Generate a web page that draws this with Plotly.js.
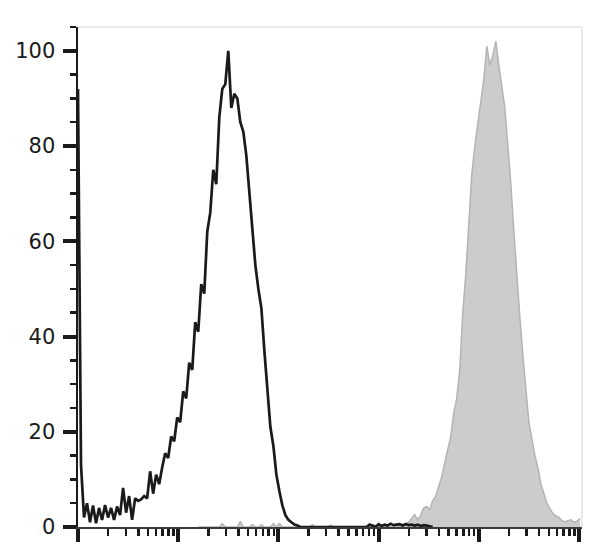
<!DOCTYPE html>
<html>
<head>
<meta charset="utf-8">
<script src="https://cdn.plot.ly/plotly-3.0.1.min.js"></script>
<style>
  html, body { margin: 0; padding: 0; background: #ffffff; }
  #chart { width: 608px; height: 545px; }
</style>
</head>
<body>
<div id="chart"></div>
<script>
// ---- Data (histogram counts, % of max, on log-spaced channels) ----
// Channel bins are 0.03 decades wide, starting at 10^0.
const BIN_DECADES = 0.03;

// Unstained / control (black outline), starting at bin 0
const blackStartBin = 0;
const blackCounts = [
  92, 13, 2, 5, 1, 4.5, 0.8, 4, 1.5, 4.6,
  2, 4, 1.5, 4.3, 2.5, 8.2, 3, 6.5, 1.5, 6,
  5.5, 5.8, 6.5, 6, 11.7, 7, 11, 9, 12.5, 15.5,
  14.5, 19, 18, 23, 22, 28.5, 27, 34.5, 33, 43,
  41, 51, 49, 62, 66, 75, 72, 86, 92, 93,
  100, 88, 91, 90, 85, 83, 78, 70, 63, 55,
  50, 46, 37, 29, 21, 17, 11, 7.5, 4.5, 2.5,
  1.5, 1, 0.5, 0.3, 0, 0, 0, 0, 0, 0,
  0, 0, 0, 0, 0, 0, 0, 0, 0, 0,
  0, 0, 0, 0, 0, 0, 0, 0.5, 0.3, 0,
  0.6, 0.2, 0.5, 0.3, 0.7, 0.4, 0.5, 0.6, 0.3, 0.6,
  0.4, 0.5, 0.3, 0.5, 0.2, 0.4, 0.3, 0.2, 0
];

// Stained sample (grey filled), starting at bin 40
const greyStartBin = 40;
const greyCounts = [
  0, 0, 0, 0, 0, 0, 0, 0, 0.7, 0,
  0, 0, 0, 0, 1.2, 0, 0, 0, 0.5, 0,
  0, 0.5, 0, 0, 0, 0.7, 0, 0.7, 0, 0,
  0, 0, 0, 0, 0, 0, 0, 0, 0.5, 0,
  0, 0, 0, 0, 0.4, 0, 0, 0, 0, 0,
  0, 0, 0, 0, 0, 0, 0, 0.3, 0.5, 0.3,
  0.2, 0.3, 0.2, 0, 0, 0, 0, 0.3, 0.5, 0.8,
  1, 1.8, 2.6, 1.5, 2.5, 4, 4.3, 3.6, 5.5, 6.5,
  8.8, 10.5, 13.5, 16.5, 19, 24, 27, 33, 45, 53,
  64, 74, 80, 85, 89, 94, 101, 97, 99, 102,
  97, 92, 88, 80, 72, 62, 52, 44, 36, 28,
  22, 18.5, 15, 12.5, 9, 7, 5, 3.8, 2.8, 2.3,
  2, 1.3, 1.1, 1.3, 1.5, 1, 1.2, 1.8
];

// Axis tick values
const xMajorTicks = [1, 10, 100, 1000, 10000, 100000];
const xMinorTicks = [];
for (let d = 0; d < 5; d++) {
  for (let m = 2; m <= 9; m++) xMinorTicks.push(m * Math.pow(10, d));
}
const yMajorTicks = [0, 20, 40, 60, 80, 100];
const yMajorLabels = ['0', '20', '40', '60', '80', '100'];
const yMinorTicks = [5, 10, 15, 25, 30, 35, 45, 50, 55, 65, 70, 75, 85, 90, 95, 105];

// ---- Build traces ----
function channelValues(startBin, counts) {
  return counts.map((_, i) => Math.pow(10, (startBin + i) * BIN_DECADES));
}

const greyTrace = {
  type: 'scatter',
  mode: 'lines',
  x: channelValues(greyStartBin, greyCounts),
  y: greyCounts,
  fill: 'tozeroy',
  fillcolor: '#cccccc',
  line: { color: '#b4b4b4', width: 1.5 },
  hoverinfo: 'skip'
};

const blackTrace = {
  type: 'scatter',
  mode: 'lines',
  x: channelValues(blackStartBin, blackCounts),
  y: blackCounts,
  line: { color: '#1a1a1a', width: 2.7 },
  hoverinfo: 'skip'
};

const layout = {
  width: 608,
  height: 545,
  margin: { l: 78, r: 26, t: 27, b: 18, pad: 0 },
  paper_bgcolor: '#ffffff',
  plot_bgcolor: '#ffffff',
  showlegend: false,
  xaxis: {
    type: 'log',
    range: [0, 5.03],
    showgrid: false,
    zeroline: false,
    showline: true,
    linecolor: '#3a3a3a',
    linewidth: 2,
    ticks: 'outside',
    tickmode: 'array',
    tickvals: xMajorTicks,
    ticktext: xMajorTicks.map(() => ''),
    ticklen: 13,
    tickwidth: 4,
    tickcolor: '#1a1a1a',
    showticklabels: false,
    minor: {
      tickmode: 'array',
      tickvals: xMinorTicks,
      ticks: 'outside',
      ticklen: 7,
      tickwidth: 2.5,
      tickcolor: '#1a1a1a',
      showgrid: false
    }
  },
  yaxis: {
    range: [0, 105],
    showgrid: false,
    zeroline: false,
    showline: true,
    linecolor: '#1a1a1a',
    linewidth: 2.5,
    ticks: 'outside',
    tickmode: 'array',
    tickvals: yMajorTicks,
    ticktext: yMajorLabels,
    ticklen: 13,
    tickwidth: 4,
    tickcolor: '#1a1a1a',
    ticklabelstandoff: 3,
    tickfont: { family: 'DejaVu Sans, sans-serif', size: 21, color: '#1a1a1a' },
    minor: {
      tickmode: 'array',
      tickvals: yMinorTicks,
      ticks: 'outside',
      ticklen: 6,
      tickwidth: 2.5,
      tickcolor: '#1a1a1a',
      showgrid: false
    }
  },
  shapes: [
    { type: 'line', xref: 'paper', yref: 'paper', x0: 0, x1: 1, y0: 1, y1: 1,
      line: { color: '#d4d4d4', width: 1 } },
    { type: 'line', xref: 'paper', yref: 'paper', x0: 1, x1: 1, y0: 0, y1: 1,
      line: { color: '#d4d4d4', width: 1 } }
  ]
};

Plotly.newPlot('chart', [greyTrace, blackTrace], layout, { displayModeBar: false, staticPlot: true });
</script>
</body>
</html>
